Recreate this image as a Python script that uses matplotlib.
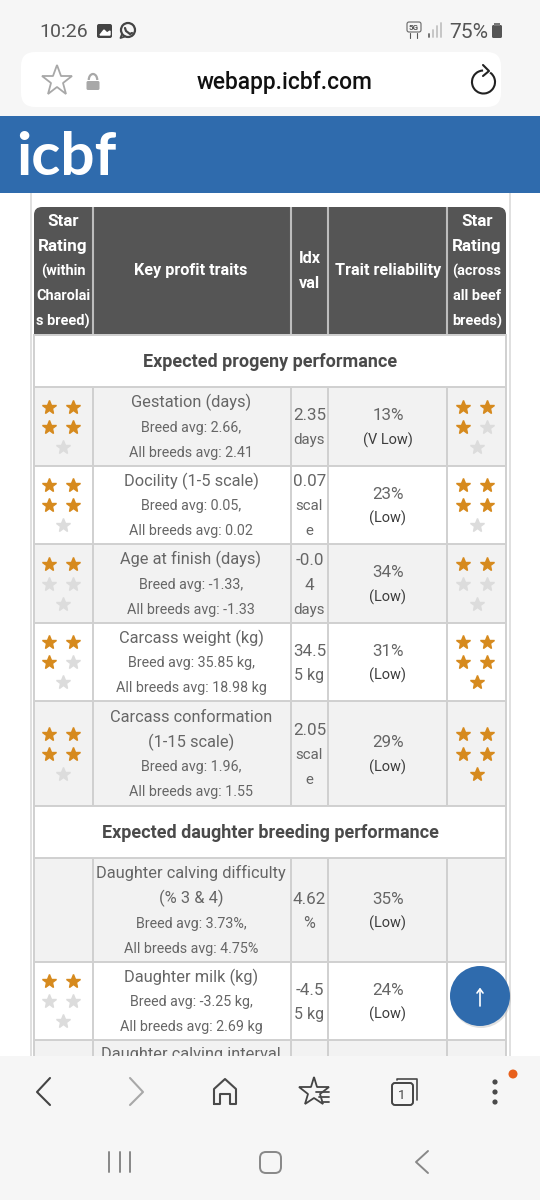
import matplotlib
matplotlib.use('Agg')
import matplotlib.pyplot as plt
from matplotlib.patches import Rectangle, FancyBboxPatch, Circle, Arc

plt.rcParams['font.family'] = ['Roboto', 'DejaVu Sans']

# table contents
section_1 = 'Expected progeny performance'
section_2 = 'Expected daughter breeding performance'
header_left = ['Star', 'Rating', '(within', 'Charolai', 's breed)']
header_right = ['Star', 'Rating', '(across', 'all beef', 'breeds)']
traits = [
    ['Gestation (days)'],
    ['Docility (1-5 scale)'],
    ['Age at finish (days)'],
    ['Carcass weight (kg)'],
    ['Carcass conformation', '(1-15 scale)'],
    ['Daughter calving difficulty', '(% 3 & 4)'],
    ['Daughter milk (kg)'],
]
breed_avg = ['Breed avg: 2.66,', 'Breed avg: 0.05,', 'Breed avg: -1.33,', 'Breed avg: 35.85 kg,',
             'Breed avg: 1.96,', 'Breed avg: 3.73%,', 'Breed avg: -3.25 kg,']
all_avg = ['All breeds avg: 2.41', 'All breeds avg: 0.02', 'All breeds avg: -1.33', 'All breeds avg: 18.98 kg',
           'All breeds avg: 1.55', 'All breeds avg: 4.75%', 'All breeds avg: 2.69 kg']
idx_val = [['2.35', 'days'], ['0.07', 'scal', 'e'], ['-0.0', '4', 'days'], ['34.5', '5 kg'],
           ['2.05', 'scal', 'e'], ['4.62', '%'], ['-4.5', '5 kg']]
reliability = ['13%', '23%', '34%', '31%', '29%', '35%', '24%']
rel_label = ['(V Low)', '(Low)', '(Low)', '(Low)', '(Low)', '(Low)', '(Low)']
stars_within = [4, 4, 2, 3, 4, None, 2]
stars_across = [3, 4, 2, 5, 5, None, None]

# layout in screen pixels
col_x = [34, 92.5, 290.5, 328, 447, 506]
row_tops = [387, 466, 544, 623, 701, 858, 962]
row_bottoms = [466, 544, 623, 701, 806, 962, 1040]
line_h = 25
GREY_TXT = '#666666'
LINE = '#d0d0d0'
BLUE = '#2f6bad'
BAR = '#f6f6f6'

fig = plt.figure(figsize=(5.4, 12), dpi=100, facecolor='white')
ax = fig.add_axes([0, 0, 1, 1])
ax.set_xlim(0, 540)
ax.set_ylim(1200, 0)
ax.axis('off')


def txt(x, y, s, px, color=GREY_TXT, weight='normal', z=5, ha='center'):
    # y is the middle of the x-height, so lines stay evenly spaced
    ax.text(x, y + px * 0.36, s, fontsize=px * 0.72, color=color, weight=weight,
            ha=ha, va='baseline', zorder=z)


def block(x, yc, lines, spacing=line_h):
    # lines: (text, px, color)
    y0 = yc - spacing * (len(lines) - 1) / 2
    for i, (s, px, c) in enumerate(lines):
        txt(x, y0 + i * spacing, s, px, color=c)


def stars(xc, yc, n):
    if n is None:
        return
    spots = [(xc - 14, yc - 20), (xc + 10, yc - 20), (xc - 14, yc), (xc + 10, yc), (xc, yc + 20)]
    for i, (sx, sy) in enumerate(spots):
        col = '#d68a1e' if i < n else '#dcdcdc'
        ax.plot(sx, sy, marker='*', ms=10.5, color=col, mec=col, zorder=4)


def hline(x0, x1, y, color=LINE, lw=1.4, z=3):
    ax.plot([x0, x1], [y, y], color=color, lw=lw, zorder=z, solid_capstyle='butt')


def vline(x, y0, y1, color=LINE, lw=1.4, z=3):
    ax.plot([x, x], [y0, y1], color=color, lw=lw, zorder=z, solid_capstyle='butt')


def path(xs, ys, color='#4a4a4a', lw=1.5, z=12):
    ax.plot(xs, ys, color=color, lw=lw, zorder=z, solid_capstyle='round', solid_joinstyle='round')


def idx_px(j, s):
    # the number wraps in this narrow column, the unit part of it sits smaller
    if j == 0 or s == '4':
        return 17
    return 16 if s in ('5 kg', '%') else 15


# page frame
vline(30.5, 193, 1056, color='#e0e0e0')
vline(509.5, 193, 1056, color='#e0e0e0')

# table header
ax.add_patch(FancyBboxPatch((34, 207), 472, 40, boxstyle='round,pad=0,rounding_size=8',
                            fc='#555555', ec='none', zorder=2))
ax.add_patch(Rectangle((34, 225), 472, 109, fc='#555555', ec='none', zorder=2))
for x in col_x[1:-1]:
    vline(x, 207, 334, color='#bdbdbd', lw=1.5)
hline(34, 506, 334.5, color='#bdbdbd')
for x, lines in ((63, header_left), (477, header_right)):
    for i, s in enumerate(lines):
        txt(x, 220 + i * 25, s, 17 if i < 2 else 14.5, color='white', weight='bold')
txt(191, 269, 'Key profit traits', 16.2, color='white', weight='bold')
txt(309.5, 257, 'Idx', 16.2, color='white', weight='bold')
txt(309.5, 282, 'val', 16.2, color='white', weight='bold')
txt(388, 269, 'Trait reliability', 16.2, color='white', weight='bold')

# section rows
txt(270, 361, section_1, 18, color='#4a4a4a', weight='bold')
txt(270, 832, section_2, 18, color='#4a4a4a', weight='bold')

# data rows, shaded every other one
shade = [True, False, True, False, True, True, False]
for i in range(len(traits)):
    top, bot = row_tops[i], row_bottoms[i]
    mid = (top + bot) / 2
    if shade[i]:
        ax.add_patch(Rectangle((34, top), 472, bot - top, fc='#f2f2f2', ec='none', zorder=1))
    lines = [(s, 16.4, GREY_TXT) for s in traits[i]]
    lines += [(breed_avg[i], 14.3, GREY_TXT), (all_avg[i], 14.3, GREY_TXT)]
    block(191, mid, lines)
    block(309.5, mid, [(s, idx_px(j, s), GREY_TXT) for j, s in enumerate(idx_val[i])])
    block(388, mid, [(reliability[i], 17, GREY_TXT), (rel_label[i], 14.5, '#3c3c3c')])
    stars(63, mid, stars_within[i])
    stars(477, mid, stars_across[i])

# row cut off by the browser bar
ax.add_patch(Rectangle((34, 1040), 472, 20, fc='#f2f2f2', ec='none', zorder=1))
txt(191, 1053, 'Daughter calving interval', 16.4)

# grid lines
for y in [335, 387, 466, 544, 623, 701, 806, 858, 962, 1040]:
    hline(34, 506, y)
for x in (34, 506):
    vline(x, 334, 1056)
for x in col_x[1:-1]:
    vline(x, 387, 806)
    vline(x, 858, 1056)

# scroll to top button
ax.add_patch(Circle((481, 998), 30, fc='#bbbbbb', ec='none', alpha=0.45, zorder=7))
ax.add_patch(Circle((480, 996), 30, fc=BLUE, ec='none', zorder=8))
path([480, 480], [989, 1006], color='white', lw=1.2)
path([477, 480, 483], [993, 989, 993], color='white', lw=1.2)

# top browser chrome
ax.add_patch(Rectangle((0, 0), 540, 116, fc=BAR, ec='none', zorder=1))
ax.add_patch(FancyBboxPatch((21, 52), 480, 55, boxstyle='round,pad=0,rounding_size=14',
                            fc='white', ec='none', zorder=2))
ax.add_patch(Rectangle((0, 116), 540, 77, fc=BLUE, ec='none', zorder=2))
txt(39, 30, '10:26', 19.5, color='#555555', ha='left')
txt(449, 30, '75%', 21, color='#555555', ha='left')
txt(285, 81, 'webapp.icbf.com', 22.8, color='#111111', weight='medium')
ax.text(16, 175, 'icbf', fontsize=43.5, color='white', weight='bold', ha='left', va='baseline', zorder=5,
        family=['Lato', 'DejaVu Sans'])

# status bar icons
ax.add_patch(FancyBboxPatch((97, 24), 15, 14, boxstyle='round,pad=0,rounding_size=2', fc='#444444', ec='none', zorder=5))
ax.fill([100, 104, 107, 110, 110, 100], [35, 30, 33, 31, 35, 35], color='white', zorder=6)
ax.add_patch(Circle((128, 30), 7, fc='none', ec='#444444', lw=1.6, zorder=5))
path([122, 120.5, 125], [34, 38, 36.5], color='#444444', lw=1.3, z=6)
path([125, 126, 130, 132], [28, 31, 34, 33], color='#444444', lw=1.6, z=6)
ax.add_patch(FancyBboxPatch((407, 22), 14, 10, boxstyle='round,pad=0,rounding_size=2', fc='none', ec='#666666', lw=0.8, zorder=5))
txt(414, 27, '5G', 8, color='#555555', weight='bold')
path([410, 410], [33, 38], color='#555555', lw=0.8)
path([417, 417], [33, 38], color='#555555', lw=0.8)
for k, h in enumerate([3, 7, 11, 14]):
    path([428.5 + k * 4, 428.5 + k * 4], [37, 37 - h], color='#666666' if k == 0 else '#c2c2c2', lw=1.3)
ax.add_patch(FancyBboxPatch((492, 25), 10, 13, boxstyle='round,pad=0,rounding_size=1.5', fc='#555555', ec='none', zorder=5))
ax.add_patch(Rectangle((494, 22.5), 6, 3, fc='#777777', ec='none', zorder=5))

# address bar icons
ax.plot(57, 81, marker='*', ms=23, mfc='none', mec='#a8a8a8', mew=1.3, zorder=5)
ax.add_patch(FancyBboxPatch((86.5, 81), 13, 9, boxstyle='round,pad=0,rounding_size=1.5', fc='#a8a8a8', ec='none', zorder=5))
ax.add_patch(Arc((93, 80), 8.5, 12, theta1=180, theta2=360, ec='#a8a8a8', lw=1.6, zorder=5))
ax.add_patch(Arc((483.5, 82), 23, 23, theta1=-55, theta2=268, ec='#222222', lw=1.5, zorder=5))
path([483, 489, 483], [65, 71, 76], color='#222222', lw=1.5)

# bottom browser bar
ax.add_patch(Rectangle((0, 1056), 540, 144, fc=BAR, ec='none', zorder=10))
path([50, 37, 50], [1078, 1092, 1105], color='#444444', lw=1.5)
path([130, 143, 130], [1078, 1092, 1105], color='#a8a8a8', lw=1.5)
path([214, 214, 225, 236, 236, 230, 230, 220, 220, 214],
     [1104, 1089, 1079, 1089, 1104, 1104, 1094, 1094, 1104, 1104], lw=1.5)
ax.plot(314, 1092, marker='*', ms=22, mfc='none', mec='#444444', mew=1.3, zorder=12)
for k, w in enumerate([13, 10, 7]):
    path([329 - w, 329], [1092 + k * 5, 1092 + k * 5], lw=1.3)
ax.add_patch(FancyBboxPatch((392, 1083), 21, 22, boxstyle='round,pad=0,rounding_size=3', fc=BAR, ec='#444444', lw=1.4, zorder=12))
path([397, 397, 417, 417], [1080, 1079, 1079, 1100], lw=1.2)
txt(402, 1094, '1', 13, color='#444444', z=13)
for y in (1082, 1092, 1102):
    ax.add_patch(Circle((495, y), 2.6, fc='#4a4a4a', ec='none', zorder=12))
ax.add_patch(Circle((513, 1074), 4.5, fc='#e8601c', ec='none', zorder=12))

# android nav bar
for x in (109, 119.5, 130):
    path([x, x], [1152, 1172], color='#888888', lw=1.4)
ax.add_patch(FancyBboxPatch((260, 1152), 21, 21, boxstyle='round,pad=0,rounding_size=6', fc='none', ec='#888888', lw=1.4, zorder=12))
path([428, 416, 428], [1151, 1162, 1173], color='#888888', lw=1.4)

fig.savefig('out.png', dpi=100)
